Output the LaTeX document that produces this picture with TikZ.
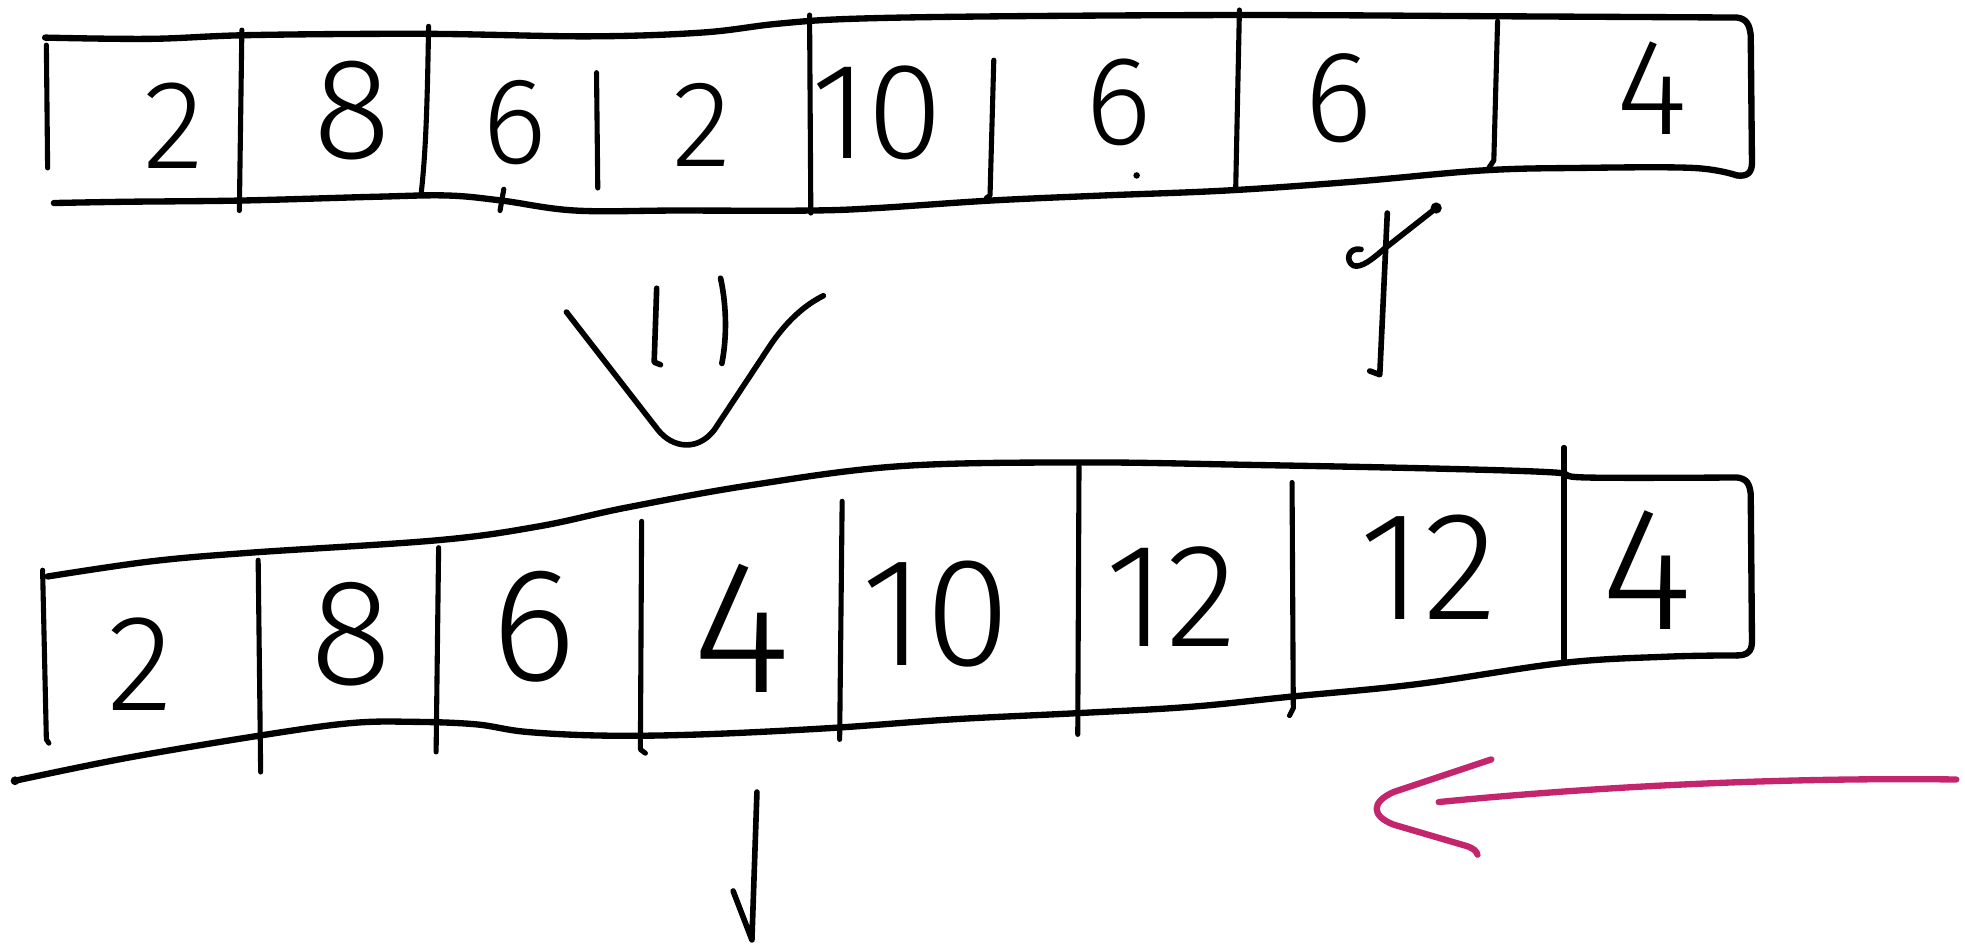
\documentclass[tikz,border=0pt]{standalone}
\usepackage{fontspec}
\newfontfamily\hand{Fira Sans}[UprightFont=* Light]
\definecolor{penpink}{RGB}{196,38,110}
\tikzset{
  pen/.style={line width=1.6pt, line cap=round, line join=round, black},
  border/.style={pen, line width=1.8pt},
  divider/.style={pen, line width=1.45pt},
  digit/.style={font=\hand\fontsize{#1}{#1}\selectfont, inner sep=0pt},
  pinkpen/.style={line width=1.8pt, line cap=round, line join=round, penpink}
}
\begin{document}
\begin{tikzpicture}[x=0.012532cm, y=-0.012532cm]
\useasboundingbox (0,0) rectangle (1568,755);

% ---------- top array ----------
\draw[border] plot[smooth, tension=0.6] coordinates {(36,30) (120,31) (200,28) (340,27) (470,29) (560,26) (620,19) (680,15) (800,13) (1000,12) (1200,13) (1386,14)}
  .. controls (1394,15) and (1396,20) .. (1397,28) -- (1398,130)
  .. controls (1398,138) and (1394,141) .. (1386,140);
\draw[border] plot[smooth, tension=0.6] coordinates {(1386,140) (1351,134) (1260,134) (1183,136) (1080,145) (979,152) (880,156) (791,160) (700,166) (646,168) (540,168) (459,168) (400,160) (357,156) (300,157) (193,160) (100,161) (43,162)};

\draw[divider] (37,36) -- (38,134);
\draw[divider] (193,24) -- (191,168);
\draw[divider] (342,21) .. controls (341,80) and (340,120) .. (336,155);
\draw[divider] (476,58) -- (477,150);
\draw[divider] (646,12) -- (647,170);
\draw[divider] (793,48) -- (790,156) -- (787,158);
\draw[divider] (989,8) -- (986,152);
\draw[divider] (1195,17) -- (1192,128) -- (1188,134);
\draw[divider] (402,151) -- (399,168);
\fill (907,140) circle (2.6);

\node[digit=36] (t1) at (139,100) {2};
\node[digit=41] (t2) at (281,88) {8};
\node[digit=35] (t3) at (411,98) {6};
\node[digit=35] (t4) at (560,100) {2};
\node[digit=39] (t5) at (700,90) {10};
\node[digit=36] (t6) at (893,82) {6};
\node[digit=37] (t7) at (1068,78) {6};
\node[digit=39] (t8) at (1318,70) {4};

% ---------- middle marks ----------
\draw[pen] (524,230) -- (522,289) -- (527,291);
\draw[pen] (575,222) .. controls (580,245) and (580,270) .. (576,290);
\draw[pen] (452,249) -- (525,343) .. controls (537,358) and (557,360) .. (570,343)
  -- (615,275) .. controls (630,253) and (645,242) .. (657,236);

\draw[pen] (1107,170) -- (1101,299) -- (1093,296);
\draw[pen] (1146,166) -- (1104,199) .. controls (1095,207) and (1086,214) .. (1080,212)
  .. controls (1073,208) and (1076,197) .. (1086,199);
\fill (1146,166) circle (4.5);

% ---------- bottom array ----------
\draw[border] plot[smooth, tension=0.6] coordinates {(38,460) (120,448) (200,441) (350,431) (430,420) (500,405) (600,387) (718,372) (861,369) (1000,371) (1150,374) (1240,377) (1265,381) (1386,381)}
  .. controls (1394,382) and (1396,386) .. (1397,394) -- (1398,512)
  .. controls (1398,520) and (1394,523) .. (1386,523);
\draw[border] plot[smooth, tension=0.6] coordinates {(1386,523) (1330,524) (1247,529) (1130,546) (1029,556) (950,564) (861,569) (760,574) (662,581) (560,586) (483,587) (420,584) (380,578) (331,576) (280,577) (207,587) (100,605) (12,623)};
\fill (12,623) circle (3.5);

\draw[divider] (34,455) -- (37,590) -- (39,593);
\draw[divider] (206,447) -- (208,616);
\draw[divider] (350,437) -- (348,600);
\draw[divider] (512,416) -- (511,598) -- (515,601);
\draw[divider] (672,400) -- (670,590);
\draw[divider] (861,372) -- (860,586);
\draw[divider] (1031,385) -- (1032,565) -- (1029,571);
\draw[divider] (1248,357) -- (1248,526);

\node[digit=39] (b1) at (112,530) {2};
\node[digit=43] (b2) at (280,506) {8};
\node[digit=46] (b3) at (426,500) {6};
\node[digit=54] (b4) at (592,501) {4};
\node[digit=44] (b5) at (747,490) {10};
\node[digit=42] (b6) at (935,476) {12};
\node[digit=44] (b7) at (1140,453) {12};
\node[digit=50] (b8) at (1314,455) {4};

% check mark under bottom array
\draw[pen] (604,632) -- (600,750) -- (585,711);

% ---------- pink arrow ----------
\coordinate (pa) at (1561,622);
\coordinate (pb) at (1148,640);
\draw[pinkpen] (pa) .. controls (1400,620) and (1250,630) .. (pb);
\draw[pinkpen] (1190,606) -- (1112,632) .. controls (1094,640) and (1094,651) .. (1112,658)
  -- (1170,675) .. controls (1176,677) and (1178,679) .. (1179,682);
\end{tikzpicture}
\end{document}
